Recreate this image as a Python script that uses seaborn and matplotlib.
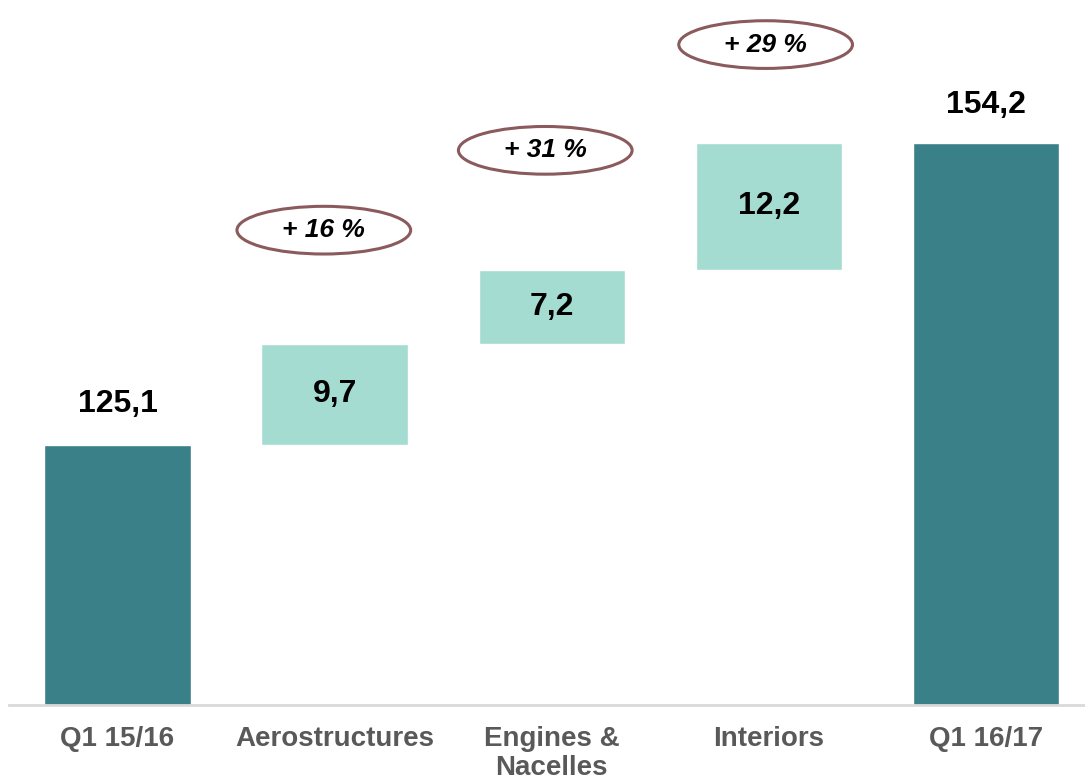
import matplotlib
matplotlib.use("Agg")
import matplotlib.pyplot as plt
from matplotlib.patches import Ellipse
import seaborn as sns
import pandas as pd

# Revenue bridge, Q1 15/16 -> Q1 16/17
categories = ["Q1 15/16", "Aerostructures", "Engines &\nNacelles", "Interiors", "Q1 16/17"]
start_value = 125.1
deltas = [9.7, 7.2, 12.2]
end_value = 154.2
growth_labels = ["+ 16 %", "+ 31 %", "+ 29 %"]

dark = "#3a8088"
light = "#a5dcd1"
ring = "#8a5a5c"
axis_grey = "#d9d9d9"
label_grey = "#595959"
y_floor = 100

sns.set_theme(style="white")
plt.rcParams["font.family"] = ["Liberation Sans", "DejaVu Sans"]

fig = plt.figure(figsize=(10.85, 7.79), dpi=100)
ax = fig.add_axes([9 / 1085, 74 / 779, 1 - 9 / 1085, 705 / 779])

totals = pd.DataFrame({"cat": [categories[0], categories[-1]],
                       "val": [start_value - y_floor, end_value - y_floor]})
bases = [start_value + sum(deltas[:i]) for i in range(len(deltas))]
steps = pd.DataFrame({"cat": categories[1:-1], "val": deltas})

sns.barplot(data=totals, x="cat", y="val", order=categories, color=dark,
            saturation=1, width=0.675, bottom=y_floor, ax=ax)
sns.barplot(data=steps, x="cat", y="val", order=categories, color=light,
            saturation=1, width=0.675, bottom=bases, ax=ax)

ax.set_ylim(y_floor, 168)
ax.set_xlim(-0.5, 4.456)

fmt = lambda v: f"{v:.1f}".replace(".", ",")
# totals: value above the bar
ax.text(0, start_value + 2.5, fmt(start_value), ha="center", va="bottom",
        fontsize=23, fontweight="bold", color="black")
ax.text(4, end_value + 2.2, fmt(end_value), ha="center", va="bottom",
        fontsize=23, fontweight="bold", color="black")
# steps: value inside the bar
for i, (b, d) in enumerate(zip(bases, deltas)):
    ax.text(i + 1, b + d / 2, fmt(d), ha="center", va="center",
            fontsize=23, fontweight="bold", color="black")

# growth callouts
callout_pos = [(0.95, 145.8), (0.97, 153.5), (0.985, 163.7)]
for i, (lab, (dx, cy)) in enumerate(zip(growth_labels, callout_pos)):
    cx = i + dx
    ax.add_patch(Ellipse((cx, cy), width=0.8, height=4.6, facecolor="white",
                         edgecolor=ring, linewidth=2.2, zorder=3))
    ax.text(cx, cy, lab, ha="center", va="center", fontsize=19,
            fontweight="bold", fontstyle="italic", color="black", zorder=4)

ax.set_xlabel("")
ax.set_ylabel("")
ax.set_yticks([])
ax.set_xticks(range(len(categories)))
ax.set_xticklabels(categories, fontsize=20, fontweight="bold", color=label_grey,
                   linespacing=1.15)
ax.tick_params(axis="x", length=0, pad=15)
for side in ["top", "right", "left"]:
    ax.spines[side].set_visible(False)
ax.spines["bottom"].set_color(axis_grey)
ax.spines["bottom"].set_linewidth(2)

fig.savefig("out.png", dpi=100)
